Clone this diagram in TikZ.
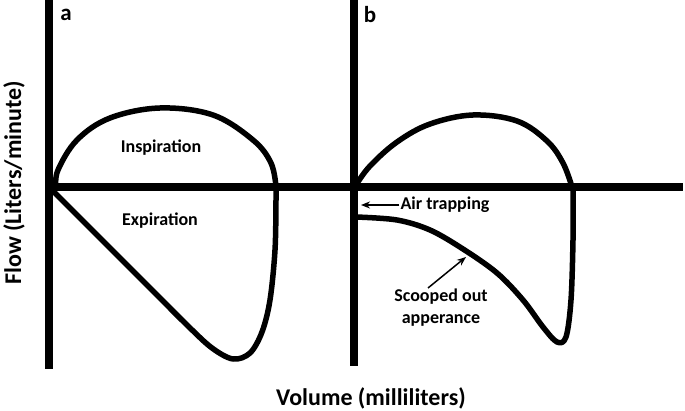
\documentclass[tikz,border=0pt]{standalone}
\usepackage{fontspec}
\setmainfont{Carlito}
\usetikzlibrary{arrows.meta}
\tikzset{
  axisline/.style={line width=8pt},
  loopline/.style={line width=5.5pt, line join=round, line cap=round},
  lbl/.style={font=\fontsize{18}{22}\selectfont\bfseries, inner sep=1pt, align=center},
  biglbl/.style={font=\fontsize{24}{28}\selectfont\bfseries, inner sep=0pt},
  panellbl/.style={font=\fontsize{23}{26}\selectfont\bfseries, inner sep=0pt},
  pointer/.style={line width=1.5pt, -{Stealth[length=9pt,width=7pt]}}
}
\begin{document}
\begin{tikzpicture}[x=1pt,y=-1pt]
\useasboundingbox (0,0) rectangle (685,411);
% axes
\draw[axisline] (49,0) -- (49,369);
\draw[axisline] (354,0) -- (354,366);
\draw[axisline] (49,187) -- (683,187);
% panel a loop
\draw[loopline] plot[smooth, tension=0.6] coordinates {(56,187) (58,170) (77,140) (110,118) (160,108) (213,115) (253,140) (271,163) (276,187)};
\draw[loopline] plot[smooth, tension=0.55] coordinates {(50,188) (100,238) (150,288) (188,326) (212,348) (233,359) (250,353) (262,332) (270,300) (275,250) (276,200) (276,187)};
% panel b loop
\draw[loopline] plot[smooth, tension=0.6] coordinates {(356,185) (370,166) (397,142) (430,124) (473,115) (517,121) (547,141) (563,163) (572,187)};
\draw[loopline] plot[smooth, tension=0.55] coordinates {(356,217) (397,220) (430,230) (463,249) (497,273) (523,300) (543,327) (557,342) (566,337) (571,300) (573,240) (573,200) (573,187)};
% labels
\node[panellbl] (la) at (66,15) {a};
\node[panellbl] (lb) at (370,15) {b};
\node[lbl] (insp) at (161,148) {Inspiration};
\node[lbl] (expi) at (160,221) {Expiration};
\node[biglbl, rotate=90] (ylab) at (14,183) {Flow (Liters/minute)};
\node[biglbl] (xlab) at (371,398) {Volume (milliliters)};
\node[lbl] (air) at (445,205) {Air trapping};
\node[lbl] (scoop) at (441,308) {Scooped out\\apperance};
\coordinate (airhead) at (361,205);
\coordinate (scooptail) at (428,288);
\coordinate (scoophead) at (466,257);
\draw[pointer] (air.west) -- (airhead);
\draw[pointer] (scooptail) -- (scoophead);
\end{tikzpicture}
\end{document}
